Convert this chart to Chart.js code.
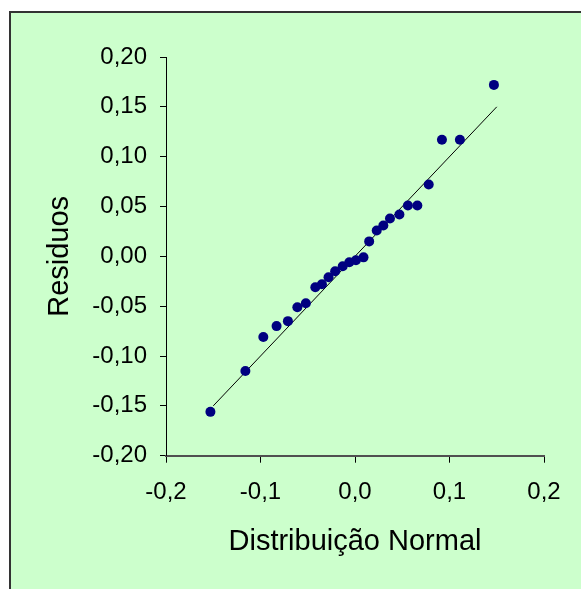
<!DOCTYPE html>
<html>
<head>
<meta charset="utf-8">
<script src="https://cdn.jsdelivr.net/npm/chart.js@4"></script>
<style>
html,body{margin:0;padding:0;background:#fff;}
#wrap{position:absolute;left:0;top:0;width:581px;height:589px;}
</style>
</head>
<body>
<div id="wrap"><canvas id="c" width="581" height="589"></canvas></div>
<script>
const normalQuantiles = [-0.153,-0.116,-0.097,-0.083,-0.071,-0.061,-0.052,-0.042,-0.035,-0.028,-0.021,-0.013,-0.006,0.001,0.009,0.015,0.023,0.030,0.037,0.047,0.056,0.066,0.078,0.092,0.111,0.147];
const residuals = [-0.156,-0.115,-0.081,-0.070,-0.065,-0.051,-0.047,-0.031,-0.028,-0.021,-0.015,-0.010,-0.006,-0.004,-0.001,0.015,0.026,0.031,0.038,0.042,0.051,0.051,0.072,0.117,0.117,0.172];
const refLineX = [-0.15, 0.15];
const refLineY = [-0.15, 0.15];
const xTickLabels = ['-0,2','-0,1','0,0','0,1','0,2'];
const yTickLabels = ['-0,20','-0,15','-0,10','-0,05','0,00','0,05','0,10','0,15','0,20'];
const xTitle = 'Distribuição Normal';
const yTitle = 'Residuos';

const FONT = '"Liberation Sans", Arial, sans-serif';

const bgPlugin = {
  id: 'bg',
  beforeDraw(chart) {
    const ctx = chart.ctx;
    ctx.save();
    ctx.fillStyle = '#ffffff';
    ctx.fillRect(0, 0, chart.width, chart.height);
    ctx.fillStyle = '#CCFFCC';
    ctx.fillRect(10, 12, chart.width - 10, chart.height - 12);
    ctx.fillStyle = '#333333';
    ctx.fillRect(9, 11, 2, chart.height - 11);
    ctx.fillRect(9, 11, chart.width - 9, 2);
    ctx.restore();
  }
};

new Chart(document.getElementById('c'), {
  type: 'scatter',
  data: {
    datasets: [
      {
        label: 'Residuos',
        data: normalQuantiles.map((x, i) => ({x: x, y: residuals[i]})),
        backgroundColor: '#000080',
        borderColor: '#000080',
        pointRadius: 5,
        pointHoverRadius: 5,
        borderWidth: 0
      },
      {
        type: 'line',
        label: 'ref',
        data: refLineX.map((x, i) => ({x: x, y: refLineY[i]})),
        borderColor: '#000000',
        borderWidth: 1,
        pointRadius: 0,
        fill: false,
        showLine: true
      }
    ]
  },
  options: {
    responsive: false,
    animation: false,
    devicePixelRatio: 1,
    layout: { padding: { top: 57, right: 37, bottom: 0, left: 0 } },
    plugins: { legend: { display: false }, tooltip: { enabled: false } },
    scales: {
      x: {
        type: 'linear',
        min: -0.2, max: 0.2,
        ticks: {
          stepSize: 0.1,
          color: '#000',
          font: { family: FONT, size: 24 },
          padding: 15,
          maxRotation: 0,
          callback: (v, i) => xTickLabels[i]
        },
        grid: { drawOnChartArea: false, drawTicks: true, tickLength: 7, tickColor: '#000', tickWidth: 1 },
        border: { display: true, color: '#505050', width: 2 },
        title: {
          display: true, text: xTitle, color: '#000',
          font: { family: FONT, size: 29 },
          padding: { top: 0, bottom: 30 }
        },
        afterFit(scale) { scale.height = 133.3; }
      },
      y: {
        type: 'linear',
        min: -0.2, max: 0.2,
        ticks: {
          stepSize: 0.05,
          color: '#000',
          font: { family: FONT, size: 24 },
          padding: 13,
          callback: (v, i) => yTickLabels[i]
        },
        grid: { drawOnChartArea: false, drawTicks: true, tickLength: 6, tickColor: '#000', tickWidth: 1 },
        border: { display: true, color: '#000', width: 1 },
        title: {
          display: true, text: yTitle, color: '#000',
          font: { family: FONT, size: 29 },
          padding: { top: 43, bottom: 0 }
        },
        afterFit(scale) { scale.width = 166; }
      }
    }
  },
  plugins: [bgPlugin]
});
</script>
</body>
</html>
